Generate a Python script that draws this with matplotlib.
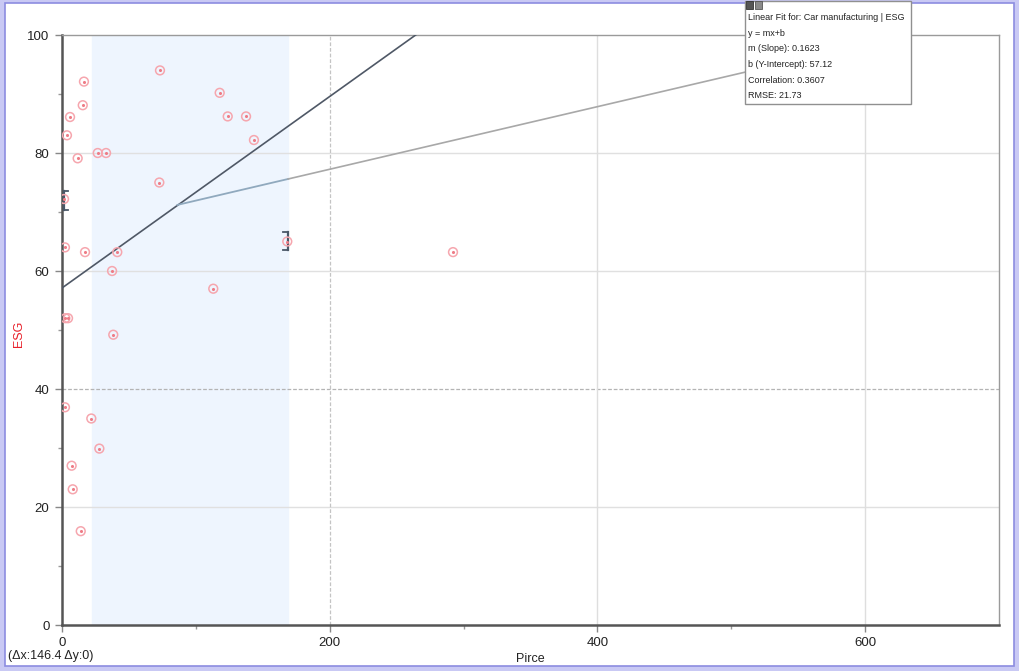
import matplotlib
matplotlib.use("Agg")
import matplotlib.pyplot as plt
from matplotlib.patches import Rectangle
import numpy as np

plt.rcParams['font.family'] = ['Liberation Sans', 'DejaVu Sans']

# ---- data ----
price = [16.4, 73.2, 15.5, 6.0, 3.7, 11.7, 26.7, 32.9, 117.8, 123.8, 137.5, 143.4,
         72.7, 1.5, 2.2, 17.2, 41.3, 37.4, 168.3, 292.1, 113.0, 2.5, 4.5, 38.3,
         2.2, 21.9, 27.9, 7.2, 8.0, 14.0]
esg = [92.1, 94.0, 88.1, 86.1, 83.0, 79.1, 80.0, 80.0, 90.2, 86.2, 86.2, 82.2,
       75.0, 72.2, 64.0, 63.2, 63.2, 60.0, 65.0, 63.2, 57.0, 52.0, 52.0, 49.2,
       36.9, 35.0, 29.9, 27.0, 23.0, 15.9]

slope = 0.1623
intercept = 57.12
span_x = [22.5, 168.9]
branch_x = [86.2, 169.0, 629.0]
branch_y = [71.2, 75.6, 100.0]
bracket_left_y = [70.4, 73.6]
bracket_right_y = [63.6, 66.6]

x_major = [0, 200, 400, 600]
y_major = [0, 20, 40, 60, 80, 100]

tooltip_lines = ["Linear Fit for: Car manufacturing | ESG", "y = mx+b",
                 "m (Slope): 0.1623", "b (Y-Intercept): 57.12",
                 "Correlation: 0.3607", "RMSE: 21.73"]

# ---- figure ----
fig = plt.figure(figsize=(10.2, 6.71), dpi=100)
fig.patch.set_facecolor('#c9c9f4')
fig.patches.append(Rectangle((5/1020, 5/671), (1014-5)/1020, (668-5)/671,
                             transform=fig.transFigure, facecolor='white',
                             edgecolor='#8c8ce0', linewidth=1.2, zorder=-5))

ax = fig.add_axes([62/1020, (671-625)/671, (999-62)/1020, (625-35)/671])
ax.set_zorder(1)
ax.set_xlim(0, 700)
ax.set_ylim(0, 100)
ax.set_facecolor('white')

# span
ax.axvspan(span_x[0], span_x[1], color='#eef5fe', zorder=0)

# grid
for gy in [20, 60, 80]:
    ax.axhline(gy, color='#e0e0e0', lw=1.0, zorder=1)
ax.axhline(40, color='#b4b4b4', lw=0.9, ls=(0, (3, 1.5)), zorder=1)
ax.axvline(200, color='#c4c4c4', lw=0.9, ls=(0, (3, 1.5)), zorder=1)
for gx in [400, 600]:
    ax.axvline(gx, color='#dedede', lw=1.0, zorder=1)

# regression line
xr = np.array([0, (100 - intercept) / slope])
ax.plot(xr, slope * xr + intercept, color='#4f5866', lw=1.2, zorder=3)

# branch line
ax.plot(branch_x[:2], branch_y[:2], color='#90a9be', lw=1.3, zorder=3)
ax.plot(branch_x[1:], branch_y[1:], color='#a8a8a8', lw=1.2, zorder=3)

# brackets
bc = '#4a5868'
ax.plot([1.5, 1.5], bracket_left_y, color=bc, lw=1.6, zorder=4)
ax.plot([1.5, 4.5], [bracket_left_y[0]] * 2, color=bc, lw=1.3, zorder=4)
ax.plot([1.5, 4.5], [bracket_left_y[1]] * 2, color=bc, lw=1.3, zorder=4)
ax.plot([span_x[1], span_x[1]], bracket_right_y, color=bc, lw=1.6, zorder=4)
ax.plot([span_x[1] - 3.5, span_x[1]], [bracket_right_y[0]] * 2, color=bc, lw=1.3, zorder=4)
ax.plot([span_x[1] - 3.5, span_x[1]], [bracket_right_y[1]] * 2, color=bc, lw=1.3, zorder=4)

# points
ax.scatter(price, esg, s=40, facecolors='none', edgecolors='#f6a6ae', linewidths=1.1, zorder=5)
ax.scatter(price, esg, s=1.5, color='#ee7c86', zorder=6)

# axes styling
ax.set_xticks(x_major)
ax.set_yticks(y_major)
ax.set_xticks([100, 300, 500], minor=True)
ax.set_yticks([10, 30, 50, 70, 90], minor=True)
ax.tick_params(axis='both', which='major', length=5, width=1, color='#888888',
               labelsize=9.5, labelcolor='#222222', pad=4)
ax.tick_params(axis='both', which='minor', length=3, width=1, color='#999999')
for s in ['left', 'bottom']:
    ax.spines[s].set_color('#555555')
    ax.spines[s].set_linewidth(1.8)
for s in ['top', 'right']:
    ax.spines[s].set_color('#9a9a9a')
    ax.spines[s].set_linewidth(1.0)

ax.set_ylabel('ESG', color='#e8202a', fontsize=9)
ax.yaxis.set_label_coords(-0.040, 0.493)
ax.set_xlabel('Pirce', color='#222222', fontsize=9)
ax.xaxis.set_label_coords(0.5, -0.047)

fig.text(8/1020, 1 - 656/671, '(\u0394x:146.4 \u0394y:0)', fontsize=9,
         color='#222222', va='center', ha='left')

# tooltip
tip = Rectangle((745/1020, 1 - 104/671), (911-745)/1020, 103/671,
                transform=fig.transFigure, facecolor='white', edgecolor='#909090',
                linewidth=1.0, zorder=10)
fig.patches.append(tip)
fig.patches.append(Rectangle((746/1020, 1 - 9/671), 7/1020, 8/671, transform=fig.transFigure,
                             facecolor='#555555', edgecolor='#333333', lw=0.6, zorder=11))
fig.patches.append(Rectangle((755/1020, 1 - 9/671), 7/1020, 8/671, transform=fig.transFigure,
                             facecolor='#8a8a8a', edgecolor='#555555', lw=0.6, zorder=11))
for i, t in enumerate(tooltip_lines):
    fig.text(748/1020, 1 - (17.5 + i * 15.7) / 671, t, fontsize=6.5, color='#222222',
             va='center', ha='left', zorder=12)

fig.savefig('out.png', dpi=100)
